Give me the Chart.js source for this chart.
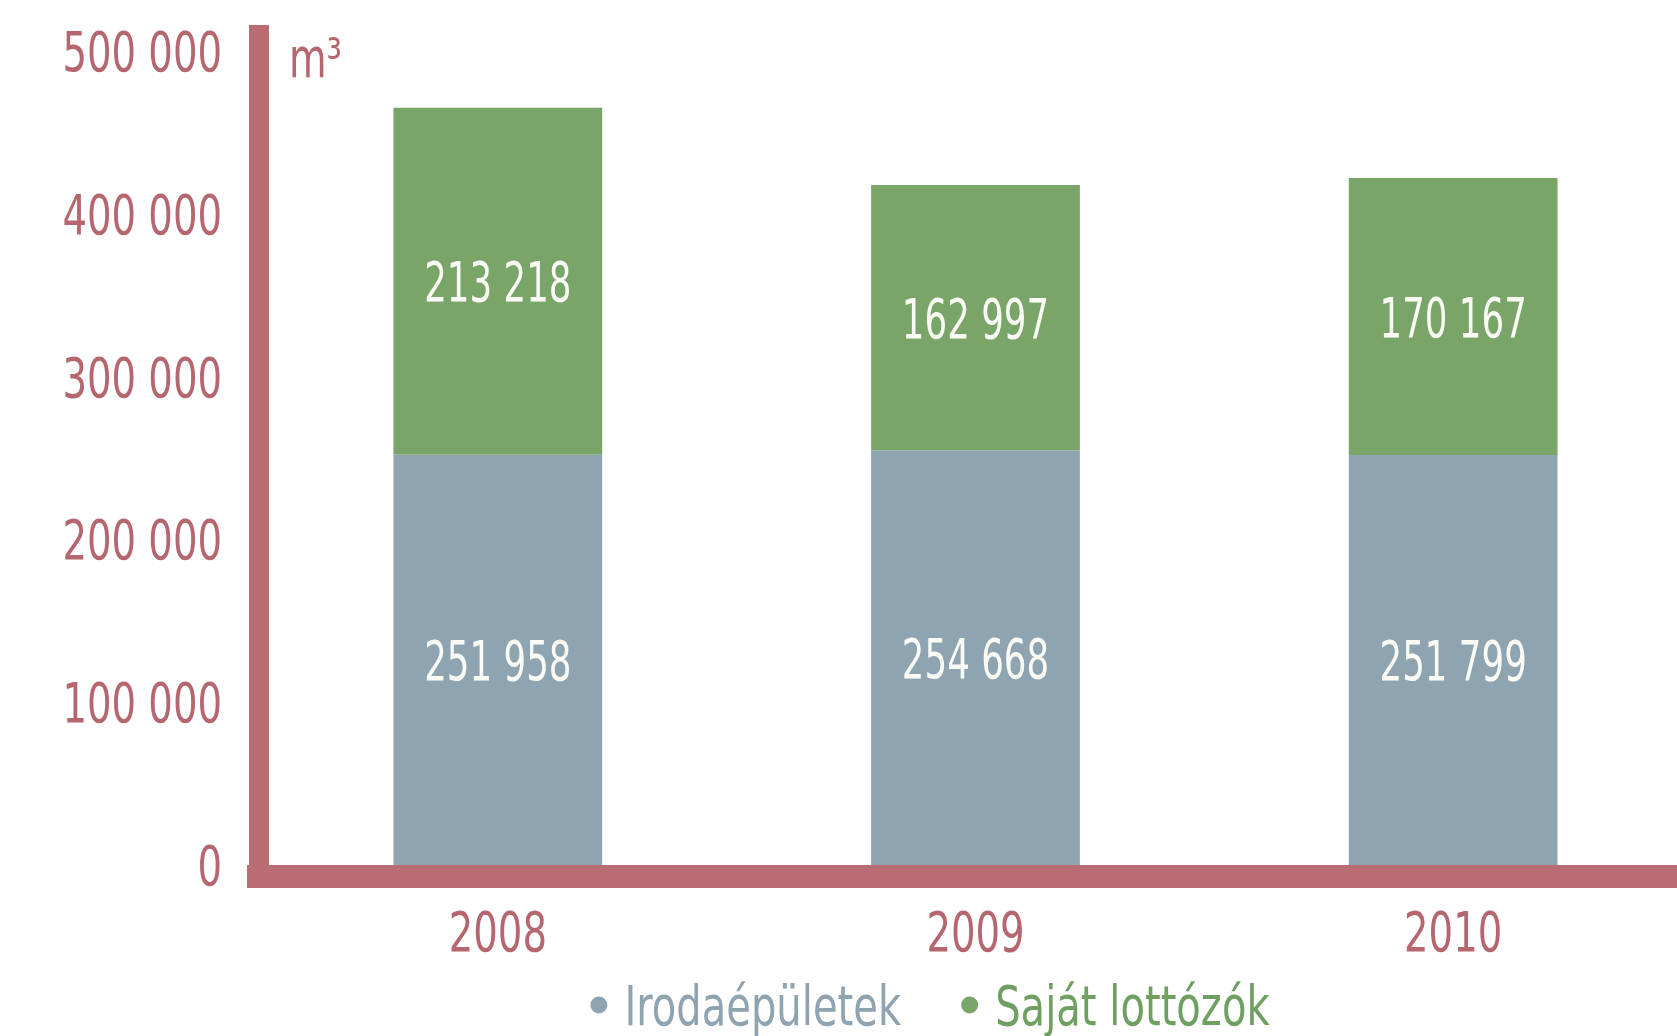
<!DOCTYPE html>
<html>
<head>
<meta charset="utf-8">
<script src="https://cdn.jsdelivr.net/npm/chart.js@4"></script>
<style>
html, body { margin: 0; padding: 0; background: #fff; overflow: hidden; }
#wrap { width: 1700px; height: 1036px; position: relative; }
</style>
</head>
<body>
<div id="wrap"><canvas id="volChart"></canvas></div>
<script>
var years = ['2008', '2009', '2010'];
var irodaepuletek = [251958, 254668, 251799];
var sajatLottozok = [213218, 162997, 170167];
var seriesNames = ['Irodaépületek', 'Saját lottózók'];
var yTicks = [0, 100000, 200000, 300000, 400000, 500000];
var unitLabel = 'm³';

var FONT = "'DejaVu Sans Condensed', 'Liberation Sans Narrow', 'Liberation Sans', sans-serif";
var FONT_SIZE = 55;
var SX = 0.78;       // squeeze factor, the original uses a condensed face
var SX_VAL = 0.72;
var SX_LEG = 0.81;
var AXIS = '#b96c71';
var TICK = '#b5666e';
var BLUE = '#8ea5b1';
var GREEN = '#7aa569';
var legendColors = ['#8fa4b0', '#6fa062'];
var legendCenterX = 930;

function fmt(v) {
    return String(v).replace(/\B(?=(\d{3})+(?!\d))/g, ' ');
}

// draw text narrowed horizontally, y is the visual centre of the digits
function squeeze(ctx, text, x, y, align, sx) {
    ctx.save();
    ctx.translate(x, y + FONT_SIZE * 0.364);
    ctx.scale(sx, 1);
    ctx.textAlign = align;
    ctx.textBaseline = 'alphabetic';
    ctx.fillText(text, 0, 0);
    ctx.restore();
}

// thick L shaped axis, unit label
var axisLines = {
    id: 'axisLines',
    beforeDatasetsDraw: function (chart) {
        var ctx = chart.ctx, a = chart.chartArea;
        ctx.save();
        ctx.fillStyle = AXIS;
        ctx.fillRect(a.left - 10, 25, 20, a.bottom + 23 - 25);
        ctx.fillRect(a.left - 12, a.bottom, chart.width - (a.left - 12), 23);
        ctx.fillStyle = TICK;
        ctx.font = FONT_SIZE + 'px ' + FONT;
        squeeze(ctx, unitLabel, a.left + 30, a.top + 6, 'left', SX);
        ctx.restore();
    }
};

// tick labels, segment values and legend
var textLayer = {
    id: 'textLayer',
    afterDatasetsDraw: function (chart) {
        var ctx = chart.ctx, a = chart.chartArea;
        var xs = chart.scales.x, ys = chart.scales.y;
        ctx.save();
        ctx.font = FONT_SIZE + 'px ' + FONT;

        ctx.fillStyle = TICK;
        ys.ticks.forEach(function (t) {
            squeeze(ctx, fmt(t.value), a.left - 37, ys.getPixelForValue(t.value), 'right', SX);
        });
        years.forEach(function (y, i) {
            squeeze(ctx, y, xs.getPixelForValue(i), a.bottom + 66, 'center', SX);
        });

        ctx.fillStyle = '#fbfbf5';
        chart.data.datasets.forEach(function (ds, i) {
            chart.getDatasetMeta(i).data.forEach(function (bar, j) {
                var p = bar.getProps(['x', 'y', 'base'], true);
                squeeze(ctx, fmt(ds.data[j]), p.x, (p.y + p.base) / 2, 'center', SX_VAL);
            });
        });

        // legend
        var dotR = 8.5, dotGap = 17, itemGap = 60;
        var items = chart.data.datasets.map(function (ds, i) {
            return { text: ds.label, dot: ds.backgroundColor, color: legendColors[i],
                     w: ctx.measureText(ds.label).width * SX_LEG };
        });
        var total = (items.length - 1) * itemGap;
        items.forEach(function (it) { total += dotR * 2 + dotGap + it.w; });
        var lx = legendCenterX - total / 2, ly = a.bottom + 140;
        items.forEach(function (it) {
            ctx.fillStyle = it.dot;
            ctx.beginPath();
            ctx.arc(lx + dotR, ly, dotR, 0, Math.PI * 2);
            ctx.fill();
            lx += dotR * 2 + dotGap;
            ctx.fillStyle = it.color;
            squeeze(ctx, it.text, lx, ly, 'left', SX_LEG);
            lx += it.w + itemGap;
        });
        ctx.restore();
    }
};

new Chart('volChart', {
    type: 'bar',
    data: {
        labels: years,
        datasets: [{
            label: seriesNames[0],
            data: irodaepuletek,
            backgroundColor: BLUE,
            barPercentage: 0.437,
            categoryPercentage: 1
        }, {
            label: seriesNames[1],
            data: sajatLottozok,
            backgroundColor: GREEN,
            barPercentage: 0.437,
            categoryPercentage: 1
        }]
    },
    options: {
        responsive: true,
        maintainAspectRatio: false,
        animation: false,
        layout: { padding: { top: 51, left: 0, right: 8, bottom: 0 } },
        plugins: {
            tooltip: { enabled: false },
            legend: { display: false }
        },
        scales: {
            x: {
                stacked: true,
                offset: true,
                grid: { display: false, drawTicks: false },
                border: { display: false },
                ticks: { display: false },
                afterFit: function (s) { s.height = 171; }
            },
            y: {
                stacked: true,
                min: 0,
                max: 500000,
                grid: { display: false, drawTicks: false },
                border: { display: false },
                ticks: { display: false },
                afterBuildTicks: function (s) { s.ticks = yTicks.map(function (v) { return { value: v }; }); },
                afterFit: function (s) { s.width = 259; }
            }
        }
    },
    plugins: [axisLines, textLayer]
});
</script>
</body>
</html>
